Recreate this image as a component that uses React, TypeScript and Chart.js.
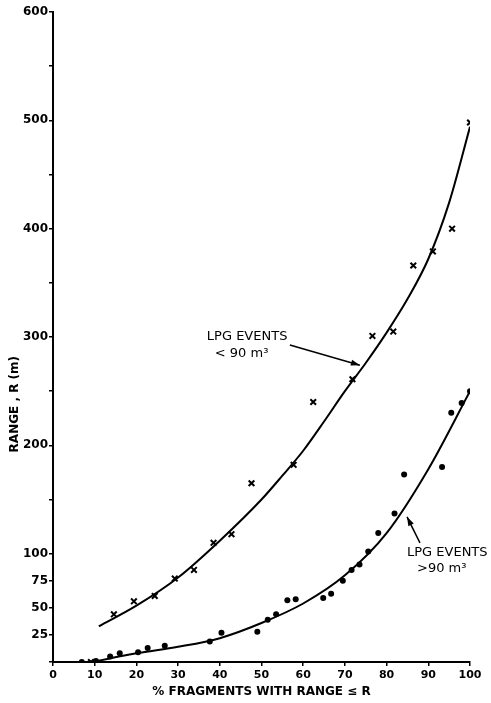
import React, { useEffect, useRef } from "react";
import { Chart, registerables } from "chart.js";

Chart.register(...registerables);

// LPG events < 90 m3 (crosses)
const smallX = [9.1, 14.6, 19.4, 24.4, 29.2, 33.8, 38.5, 42.8, 47.6, 57.7, 62.4, 71.8, 76.6, 81.6, 86.4, 91.1, 95.7, 100];
const smallY = [0, 44, 56, 61, 77, 85, 110, 118, 165, 182, 240, 261, 301, 305, 366, 379, 400, 498];

// LPG events > 90 m3 (dots)
const largeX = [6.9, 10.3, 13.7, 16, 20.4, 22.7, 26.8, 37.6, 40.4, 49, 51.5, 53.5, 56.2, 58.2, 64.8, 66.7, 69.5, 71.6, 73.5, 75.6, 78, 81.9, 84.2, 93.3, 95.5, 98, 100];
const largeY = [0, 1, 5, 8, 9, 13, 15, 19, 27, 28, 39, 44, 57, 58, 59, 63, 75, 85, 90, 102, 119, 137, 173, 180, 230, 239, 250];

// fitted curves
const fitSmallX = [11, 20, 30, 40, 50, 55, 60, 65, 70, 75, 80, 85, 90, 95, 100];
const fitSmallY = [33, 52, 78, 112, 150, 172, 195, 222, 250, 276, 304, 335, 372, 424, 494];
const fitLargeX = [9.5, 20, 30, 40, 50, 60, 70, 80, 90, 100];
const fitLargeY = [0, 8, 14, 22, 36, 54, 80, 119, 178, 250];

// axis ticks
const yTickValues = [0, 25, 50, 75, 100, 150, 200, 250, 300, 350, 400, 450, 500, 550, 600];
const yTickLabels = [25, 50, 75, 100, 200, 300, 400, 500, 600];
const xTickStep = 10;

const yTitle = "RANGE , R (m)";
const xTitle = "% FRAGMENTS WITH RANGE ≤ R";
const upperLabel = ["LPG EVENTS", "< 90 m³"];
const lowerLabel = ["LPG EVENTS", ">90 m³"];

const zip = (xs: number[], ys: number[]) => xs.map((x, i) => ({ x, y: ys[i] }));

const FONT = "'DejaVu Sans', 'Liberation Sans', sans-serif";

function arrow(ctx: CanvasRenderingContext2D, x1: number, y1: number, x2: number, y2: number) {
  ctx.beginPath();
  ctx.moveTo(x1, y1);
  ctx.lineTo(x2, y2);
  ctx.stroke();
  const a = Math.atan2(y2 - y1, x2 - x1);
  const L = 9, W = 3;
  ctx.beginPath();
  ctx.moveTo(x2, y2);
  ctx.lineTo(x2 - L * Math.cos(a) + W * Math.sin(a), y2 - L * Math.sin(a) - W * Math.cos(a));
  ctx.lineTo(x2 - L * Math.cos(a) - W * Math.sin(a), y2 - L * Math.sin(a) + W * Math.cos(a));
  ctx.closePath();
  ctx.fill();
}

const annotPlugin = {
  id: "annot",
  afterDatasetsDraw(chart: any) {
    const { ctx, scales } = chart;
    const x = scales.x, y = scales.y;
    const px = (v: number) => x.getPixelForValue(v);
    const py = (v: number) => y.getPixelForValue(v);
    ctx.save();
    ctx.fillStyle = "#000";
    ctx.strokeStyle = "#000";
    ctx.lineWidth = 1.5;
    // y axis title
    ctx.save();
    ctx.font = `bold 12px ${FONT}`;
    ctx.textAlign = "center";
    ctx.textBaseline = "middle";
    ctx.translate(15, py(238));
    ctx.rotate(-Math.PI / 2);
    ctx.fillText(yTitle, 0, 0);
    ctx.restore();

    ctx.font = `13px ${FONT}`;
    ctx.textAlign = "left";
    ctx.textBaseline = "middle";
    ctx.fillText(upperLabel[0], px(36.9), py(300));
    ctx.fillText(upperLabel[1], px(38.8), py(285));
    arrow(ctx, px(56.8), py(292.6), px(73.6), py(274));

    ctx.fillText(lowerLabel[0], px(84.9), py(100.6));
    ctx.fillText(lowerLabel[1], px(87.3), py(85.8));
    arrow(ctx, px(88), py(110), px(84.9), py(134));
    ctx.restore();
  },
};

export default function App() {
  const ref = useRef<HTMLCanvasElement>(null);
  useEffect(() => {
    if (!ref.current) return;
    const chart = new Chart(ref.current, {
      type: "scatter",
      data: {
        datasets: [
          {
            label: "fit < 90",
            data: zip(fitSmallX, fitSmallY),
            showLine: true,
            pointRadius: 0,
            borderColor: "#000",
            borderWidth: 2,
            cubicInterpolationMode: "monotone",
          } as any,
          {
            label: "fit > 90",
            data: zip(fitLargeX, fitLargeY),
            showLine: true,
            pointRadius: 0,
            borderColor: "#000",
            borderWidth: 2,
            cubicInterpolationMode: "monotone",
          } as any,
          {
            label: "LPG events < 90 m3",
            data: zip(smallX, smallY),
            pointStyle: "crossRot",
            pointRadius: 4,
            borderColor: "#000",
            borderWidth: 2,
          },
          {
            label: "LPG events > 90 m3",
            data: zip(largeX, largeY),
            pointStyle: "circle",
            pointRadius: 3,
            backgroundColor: "#000",
            borderColor: "#000",
            borderWidth: 0,
          },
        ],
      },
      options: {
        animation: false,
        responsive: false,
        layout: { padding: { left: 0, right: 21, top: 12, bottom: 0 } },
        plugins: { legend: { display: false }, tooltip: { enabled: false } },
        scales: {
          x: {
            type: "linear",
            min: 0,
            max: 100,
            ticks: {
              stepSize: xTickStep,
              color: "#000",
              font: { family: FONT, size: 11, weight: "bold" },
              padding: 3,
            },
            grid: { display: true, drawOnChartArea: false, tickLength: 4, color: "#000", lineWidth: 1.5 },
            border: { color: "#000", width: 2 },
            title: {
              display: true,
              text: xTitle,
              color: "#000",
              font: { family: FONT, size: 12, weight: "bold" },
              padding: { top: 0, bottom: 4 },
            },
            afterFit: (s: any) => {
              s.height = 41;
            },
          },
          y: {
            type: "linear",
            min: 0,
            max: 600,
            afterBuildTicks: (s: any) => {
              s.ticks = yTickValues.map((v) => ({ value: v }));
            },
            ticks: {
              autoSkip: false,
              color: "#000",
              font: { family: FONT, size: 12, weight: "bold" },
              padding: 1,
              callback: (v: any) => (yTickLabels.includes(Number(v)) ? String(v) : ""),
            },
            grid: { display: true, drawOnChartArea: false, tickLength: 4, color: "#000", lineWidth: 1.5 },
            border: { color: "#000", width: 2 },
            afterFit: (s: any) => {
              s.width = 53;
            },
          },
        },
      },
      plugins: [annotPlugin],
    });
    return () => chart.destroy();
  }, []);
  return (
    <div style={{ position: "absolute", left: 0, top: 0, width: 491, height: 703, background: "#fff" }}>
      <canvas ref={ref} width={491} height={703} style={{ display: "block" }} />
    </div>
  );
}
